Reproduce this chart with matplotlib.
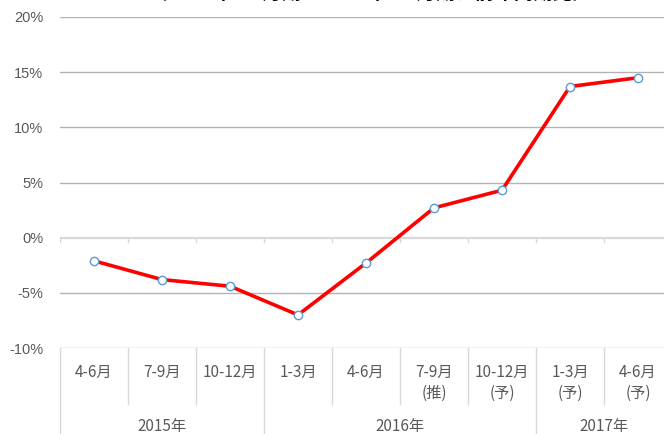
import matplotlib
matplotlib.use('Agg')
import matplotlib.pyplot as plt
import matplotlib.transforms as mtransforms

plt.rcParams['font.family'] = ['Noto Sans CJK JP', 'DejaVu Sans']

# data (year-on-year change, %)
quarters = ['4-6月', '7-9月', '10-12月', '1-3月', '4-6月', '7-9月', '10-12月', '1-3月', '4-6月']
notes = ['', '', '', '', '', '(推)', '(予)', '(予)', '(予)']
years = ['2015年', '2016年', '2017年']
year_sizes = [3, 4, 2]
growth = [-2.1, -3.8, -4.4, -7.0, -2.3, 2.7, 4.3, 13.7, 14.5]
yticks = [-10, -5, 0, 5, 10, 15, 20]

W, H = 664, 434
LABEL = '#595959'
GRID = '#b3b3b3'
LIGHT = '#d9d9d9'


def fy(px):
    """figure fraction from a pixel row counted from the top"""
    return 1 - px / H


fig = plt.figure(figsize=(W / 100, H / 100), dpi=100)
# plot area runs a little past the right edge, as in the reference
ax = fig.add_axes([60 / W, fy(348), 612 / W, (348 - 17) / H])

x = list(range(len(growth)))
ax.set_xlim(-0.5, len(growth) - 0.5)
ax.set_ylim(yticks[0], yticks[-1])

# gridlines, zero line is the category axis
for t in yticks:
    if t == 0:
        ax.axhline(0, color=LIGHT, lw=1.6, zorder=1)
    else:
        ax.axhline(t, color=GRID, lw=1.0, zorder=1)

# small tick marks hanging from the zero line
for k in range(len(growth) + 1):
    ax.plot([k - 0.5, k - 0.5], [0, -0.4], color=LIGHT, lw=1.0, zorder=1)

ax.plot(x, growth, color='#ff0000', lw=2.6, zorder=3,
        marker='o', markersize=6, markerfacecolor='white',
        markeredgecolor='#5b9bd5', markeredgewidth=1.0)

for s in ax.spines.values():
    s.set_visible(False)
ax.set_xticks([])
ax.set_yticks(yticks)
ax.set_yticklabels([f'{t}%' for t in yticks])
ax.tick_params(axis='y', length=0, pad=12, labelsize=10.5, labelcolor=LABEL)
for lab in ax.get_yticklabels():
    lab.set_fontfamily(['Liberation Sans', 'DejaVu Sans'])

# two-level category axis below the plot
trans = mtransforms.blended_transform_factory(ax.transData, fig.transFigure)
bounds = [-0.5]
for n in year_sizes:
    bounds.append(bounds[-1] + n)
for k in range(len(growth) + 1):
    xb = k - 0.5
    bottom = 434 if xb in bounds else 404
    ax.plot([xb, xb], [fy(348), fy(bottom)], color=LIGHT, lw=1.0,
            transform=trans, clip_on=False)

for i, (q, n) in enumerate(zip(quarters, notes)):
    ax.text(i, fy(372), q, transform=trans, ha='center', va='center',
            fontsize=11, color=LABEL)
    if n:
        ax.text(i, fy(393), n, transform=trans, ha='center', va='center',
                fontsize=11, color=LABEL)

start = 0
for yr, n in zip(years, year_sizes):
    ax.text(start + (n - 1) / 2, fy(427), yr, transform=trans,
            ha='center', va='center', fontsize=11, color=LABEL)
    start += n

# title is cut off by the top edge in the reference, only a sliver shows
fig.text(370 / W, fy(-1.5), '（2015年4-6月期～2017年4-6月期、前年同期比）',
         ha='center', va='baseline', fontsize=14, fontweight='bold')

fig.savefig('out.png', dpi=100)
